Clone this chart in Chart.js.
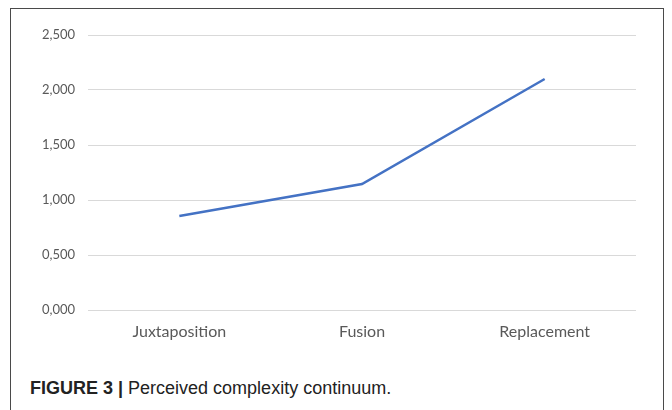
<!DOCTYPE html>
<html>
<head>
<meta charset="utf-8">
<script src="https://cdn.jsdelivr.net/npm/chart.js@4/dist/chart.umd.min.js"></script>
<style>
  html, body { margin: 0; padding: 0; background: #fff; width: 672px; height: 410px; overflow: hidden; }
  #frame { position: absolute; left: 10px; top: 8px; width: 654px; height: 420px; border: 1.5px solid #4a4a4a; border-bottom: none; box-sizing: border-box; }
  #wrap { position: absolute; left: 0; top: 0; width: 672px; height: 350px; }
  #caption { position: absolute; left: 30px; top: 378px; font-family: "Liberation Sans", Arial, sans-serif; font-size: 18px; color: #222; white-space: nowrap; }
  #caption b { font-weight: bold; }
</style>
</head>
<body>
<div id="frame"></div>
<div id="wrap"><canvas id="c"></canvas></div>
<div id="caption"><b>FIGURE 3 | </b>Perceived complexity continuum.</div>
<script>
const categories = ["Juxtaposition", "Fusion", "Replacement"];
const complexityValues = [0.855, 1.145, 2.1];
const yTicks = [0, 0.5, 1.0, 1.5, 2.0, 2.5];

new Chart(document.getElementById('c'), {
  type: 'line',
  data: {
    labels: categories,
    datasets: [{
      data: complexityValues,
      borderColor: '#4472C4',
      borderWidth: 2.5,
      pointRadius: 0,
      fill: false,
      tension: 0
    }]
  },
  options: {
    responsive: true,
    maintainAspectRatio: false,
    animation: false,
    layout: { padding: { left: 26, right: 36, top: 35, bottom: 0 } },
    plugins: { legend: { display: false }, tooltip: { enabled: false } },
    scales: {
      x: {
        offset: true,
        grid: { display: false },
        border: { display: false },
        ticks: { color: '#595959', font: { family: 'Lato', size: 16 }, padding: 4, maxRotation: 0 },
        afterFit: (s) => { s.height = 40; }
      },
      y: {
        min: 0, max: 2.5,
        afterBuildTicks: (s) => { s.ticks = yTicks.map(v => ({ value: v })); },
        grid: { color: '#d9d9d9', lineWidth: 1, drawTicks: false },
        border: { display: false },
        ticks: {
          color: '#595959', font: { family: 'Lato', size: 13 }, padding: 13,
          callback: (v) => Number(v).toFixed(3).replace('.', ',')
        },
        afterFit: (s) => { s.width = 62; }
      }
    }
  }
});
</script>
</body>
</html>
